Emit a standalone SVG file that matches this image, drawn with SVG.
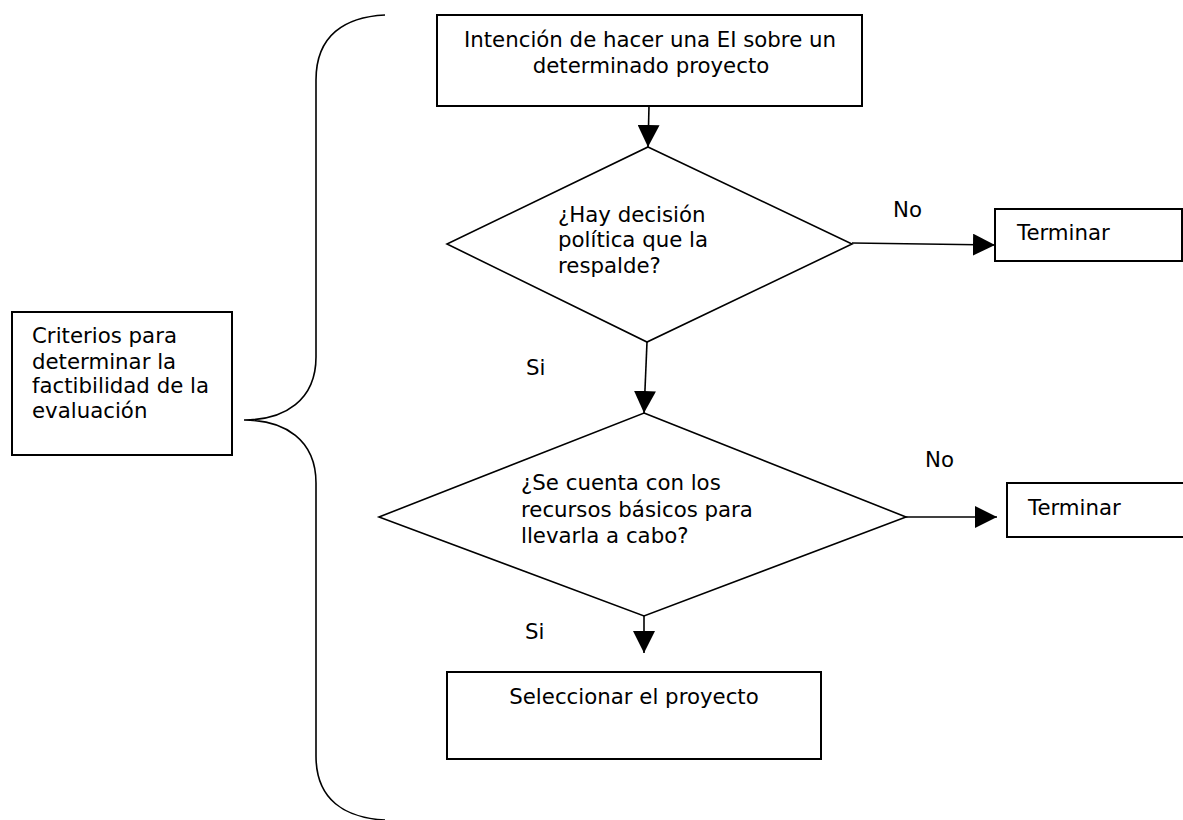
<svg xmlns="http://www.w3.org/2000/svg" width="1183" height="820" viewBox="0 0 1183 820">
<style>
.box{fill:#fff;stroke:#000;stroke-width:2}
.dia{fill:#fff;stroke:#000;stroke-width:1.6}
.t{font-family:"DejaVu Sans",Verdana,sans-serif;font-size:21.3px;fill:#000}
.m{text-anchor:middle}
.c{fill:none;stroke:#000;stroke-width:1.6}
</style>
<defs>
<marker id="ah" markerUnits="userSpaceOnUse" markerWidth="22" markerHeight="22" viewBox="0 0 20 20" refX="20" refY="10" orient="auto">
<path d="M0,0 L20,10 L0,20 Z" fill="#000"/>
</marker>
</defs>
<rect width="1183" height="820" fill="#fff"/>
<g id="brace">
<path class="c" d="M385,15 C345,17 316,35 316,80 L316,357 C316,400 285,420 244,420 C285,420 316,440 316,483 L316,756 C316,800 345,818 385,820"/>
</g>
<g id="criterios">
<rect class="box" x="12" y="312" width="220" height="143"/>
<text class="t" x="32" y="343">Criterios para</text>
<text class="t" x="32" y="369">determinar la</text>
<text class="t" x="32" y="393">factibilidad de la</text>
<text class="t" x="32" y="418">evaluación</text>
</g>
<g id="intencion">
<rect class="box" x="437" y="15" width="425" height="91"/>
<text class="t m" x="650" y="47">Intención de hacer una EI sobre un</text>
<text class="t m" x="651" y="73">determinado proyecto</text>
</g>
<g id="decision">
<polygon class="dia" points="648,147 852,244 647,342 447,244"/>
<text class="t" x="558" y="222">¿Hay decisión</text>
<text class="t" x="558" y="247">política que la</text>
<text class="t" x="558" y="273">respalde?</text>
</g>
<g id="terminar1">
<rect class="box" x="995" y="209" width="187" height="52"/>
<text class="t" x="1017" y="240">Terminar</text>
</g>
<g id="recursos">
<polygon class="dia" points="644,413 906,517 644,616 379,517"/>
<text class="t" x="521" y="490">¿Se cuenta con los</text>
<text class="t" x="521" y="517">recursos básicos para</text>
<text class="t" x="521" y="543">llevarla a cabo?</text>
</g>
<g id="terminar2">
<rect class="box" x="1007" y="483" width="190" height="54"/>
<text class="t" x="1028" y="515">Terminar</text>
</g>
<g id="seleccionar">
<rect class="box" x="447" y="672" width="374" height="87"/>
<text class="t m" x="634" y="704">Seleccionar el proyecto</text>
</g>
<g id="connectors">
<line class="c" x1="649" y1="106" x2="648" y2="147" marker-end="url(#ah)"/>
<line class="c" x1="852" y1="243" x2="995" y2="245" marker-end="url(#ah)"/>
<line class="c" x1="647" y1="342" x2="644" y2="413" marker-end="url(#ah)"/>
<line class="c" x1="906" y1="517" x2="997" y2="517" marker-end="url(#ah)"/>
<line class="c" x1="644" y1="616" x2="644" y2="653" marker-end="url(#ah)"/>
<text class="t" x="893" y="217">No</text>
<text class="t" x="526" y="375">Si</text>
<text class="t" x="925" y="467">No</text>
<text class="t" x="525" y="639">Si</text>
</g>
</svg>
